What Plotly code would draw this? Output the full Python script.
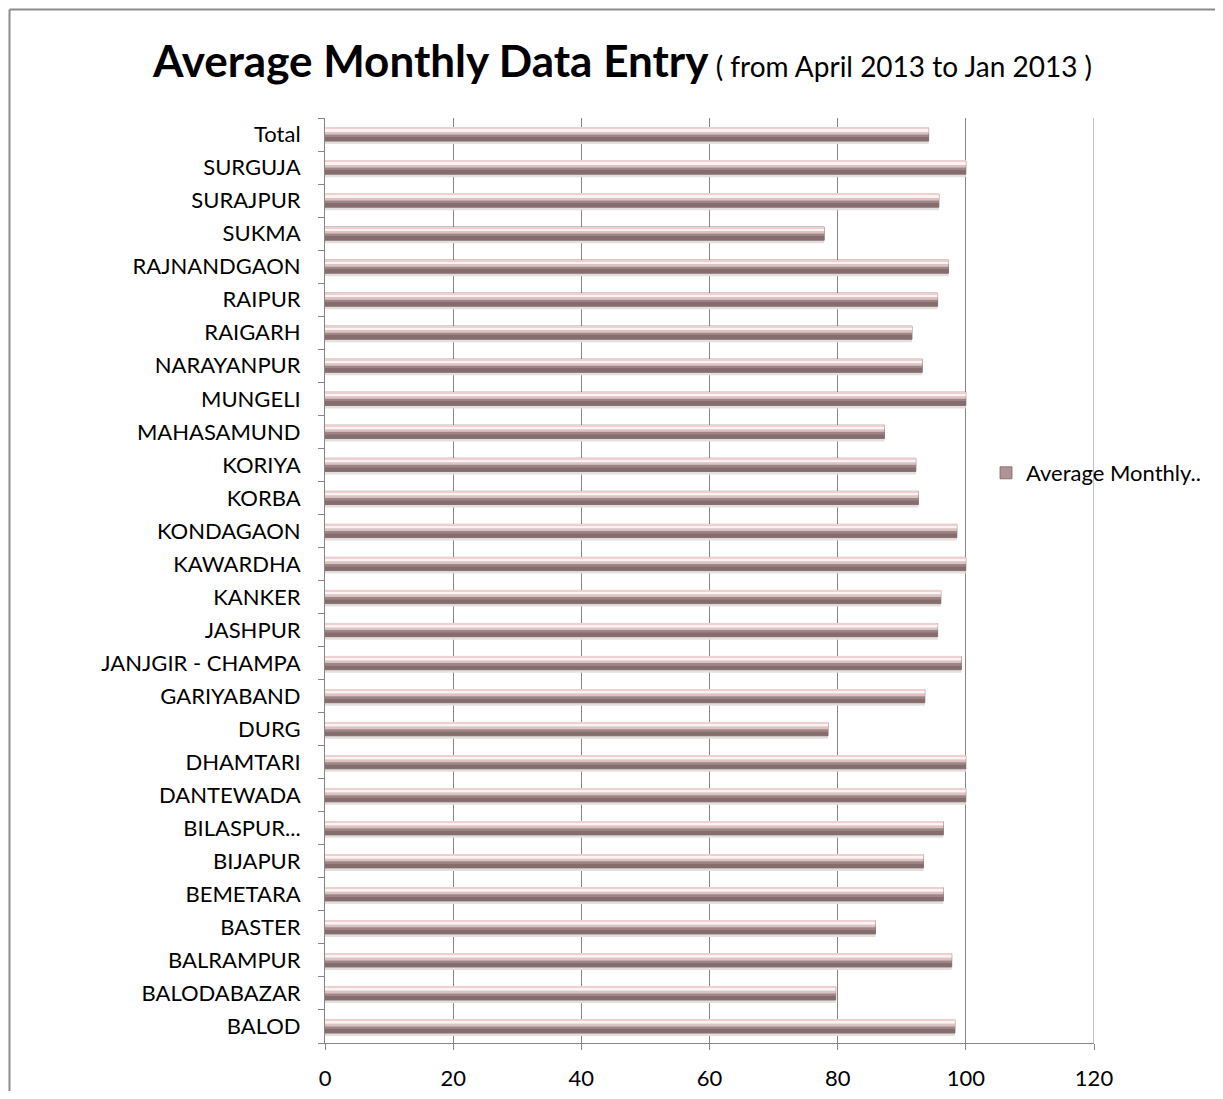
import plotly.graph_objects as go

categories = ["BALOD", "BALODABAZAR", "BALRAMPUR", "BASTER", "BEMETARA", "BIJAPUR",
              "BILASPUR...", "DANTEWADA", "DHAMTARI", "DURG", "GARIYABAND",
              "JANJGIR - CHAMPA", "JASHPUR", "KANKER", "KAWARDHA", "KONDAGAON",
              "KORBA", "KORIYA", "MAHASAMUND", "MUNGELI", "NARAYANPUR", "RAIGARH",
              "RAIPUR", "RAJNANDGAON", "SUKMA", "SURAJPUR", "SURGUJA", "Total"]
values = [98.3, 79.7, 97.8, 85.9, 96.5, 93.4,
          96.5, 100.0, 100.0, 78.5, 93.6,
          99.3, 95.6, 96.1, 100.0, 98.6,
          92.6, 92.2, 87.3, 100.0, 93.2, 91.6,
          95.6, 97.3, 77.9, 95.8, 100.0, 94.2]
x_ticks = [0, 20, 40, 60, 80, 100, 120]
series_name = "Average Monthly.."

OFF = 8  # page body margin
W, H = 1223 - 2 * OFF, 1099 - 2 * OFF   # keep the page inside the window (no scrollbars)
PX0, PX1, PY0, PY1 = 325, 1094, 118, 1043  # plot area in window pixels
L, T = PX0 - OFF, PY0 - OFF
R = W - L - (PX1 - PX0)
B = H - T - (PY1 - PY0)
pw, ph = PX1 - PX0, PY1 - PY0
GRID = "#868686"


def px(x):
    return (x - PX0) / pw


def py(y):
    return (PY1 - y) / ph


fig = go.Figure()

bar_layers = [
    # (width, offset, color, legend)
    (0.09, -0.29, "#e4dfdf", False),   # shadow
    (0.40, -0.20, "#b09495", True),    # body
    (0.13, -0.20, "#856c6d", False),   # dark bottom
    (0.07, -0.07, "#a08384", False),   # lower mid
    (0.09, 0.00, "#d9c4c4", False),    # mid tone
    (0.10, 0.08, "#fdf3f3", False),    # highlight
    (0.03, 0.17, "#f0cfcf", False),    # pink top edge
]
for w, off, col, leg in bar_layers:
    fig.add_trace(go.Bar(
        y=categories, x=values, orientation="h", width=w, offset=off,
        name=series_name,
        marker=dict(color=col, line=dict(color="#7c6465", width=0.8) if leg else dict(width=0)),
        showlegend=leg, hoverinfo="x+y" if leg else "skip"))

fig.update_layout(
    width=W, height=H,
    margin=dict(l=L, r=R, t=T, b=B, pad=0, autoexpand=False),
    paper_bgcolor="white", plot_bgcolor="white",
    barmode="overlay",
    font=dict(family="Lato, Calibri, sans-serif", size=22, color="#000000"),
    showlegend=True,
    legend=dict(x=px(986), y=py(473), xanchor="left", yanchor="middle",
                bgcolor="rgba(0,0,0,0)", font=dict(size=22, color="#000"),
                itemwidth=30, traceorder="normal"),
    xaxis=dict(range=[x_ticks[0], x_ticks[-1]], tickvals=x_ticks, ticktext=[str(v) for v in x_ticks],
               showgrid=True, gridcolor=GRID, gridwidth=1,
               showline=True, linecolor=GRID, linewidth=1,
               ticks="outside", ticklen=6, tickcolor=GRID,
               ticklabelstandoff=10,
               zeroline=False, fixedrange=True,
               tickfont=dict(size=22)),
    yaxis=dict(type="category", categoryorder="array", categoryarray=categories,
               showgrid=False, showline=True, linecolor=GRID, linewidth=1,
               ticks="outside", ticklen=6, tickcolor=GRID, tickson="boundaries",
               ticklabelstandoff=19,
               range=[-0.5, len(categories) - 0.5], tickfont=dict(size=22)),
    annotations=[dict(
        text="<b>Average Monthly Data Entry</b><span style='font-size:28px'> ( from April 2013 to Jan 2013 )</span>",
        x=px(622), y=py(60), xref="paper", yref="paper",
        xanchor="center", yanchor="middle", showarrow=False,
        font=dict(size=44, color="#000000", family="Lato, Calibri, sans-serif"))],
    shapes=[
        # outer chart border (left and top edges visible)
        dict(type="line", xref="paper", yref="paper",
             x0=px(9.5), x1=px(9.5), y0=py(1115), y1=py(9.5),
             line=dict(color="#8c8c8c", width=2), layer="below"),
        dict(type="line", xref="paper", yref="paper",
             x0=px(9.5), x1=px(1300), y0=py(9.5), y1=py(9.5),
             line=dict(color="#8c8c8c", width=2), layer="below"),
        # gridline at the last tick (plot edge)
        dict(type="line", xref="x", yref="paper",
             x0=x_ticks[-1], x1=x_ticks[-1], y0=0, y1=1,
             line=dict(color=GRID, width=1), layer="below"),
    ],
)

fig.write_html("out.html")
